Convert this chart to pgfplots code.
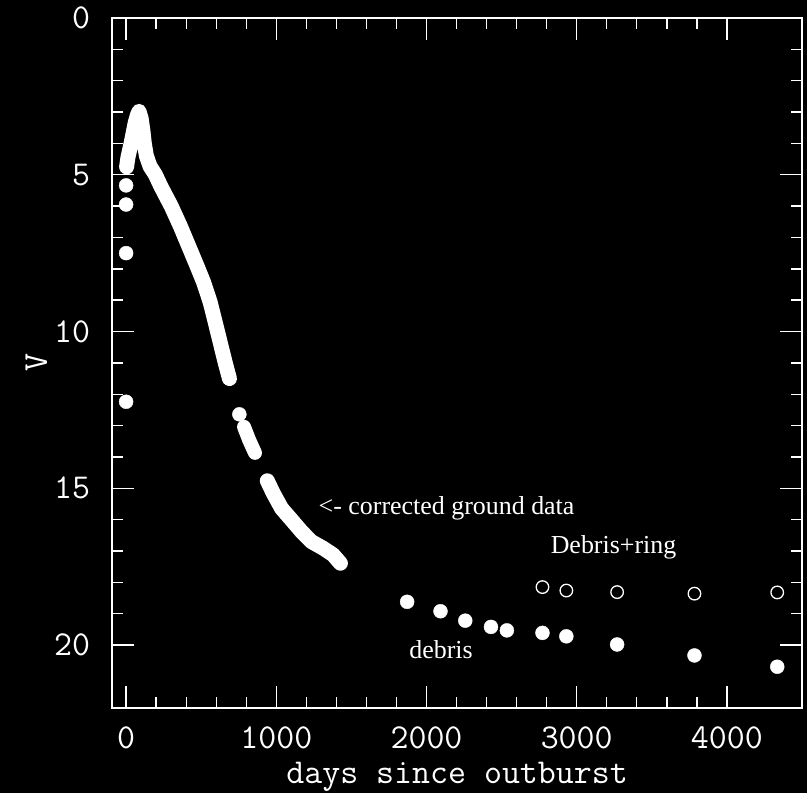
\documentclass[border=0pt]{standalone}
\usepackage{pgfplots}
\pgfplotsset{compat=1.18}
\usepackage{xcolor}
\usepackage{fontspec}
\setmainfont{Liberation Serif}
\newfontfamily\serif{Liberation Serif}
\begin{document}
\pagecolor{black}
\begin{tikzpicture}
\fill[black] (-110pt,-85pt) rectangle (697pt,710pt);
\useasboundingbox (-110pt,-85pt) rectangle (697pt,710pt);
\begin{axis}[
  at={(0,0)}, anchor=south west,
  scale only axis, width=692pt, height=692pt,
  xmin=-93, xmax=4500, ymin=0, ymax=22, y dir=reverse,
  axis line style={white, line width=1.4pt},
  every tick/.style={white, line width=1.4pt},
  xtick={0,1000,2000,3000,4000}, minor x tick num=4,
  ytick={0,5,10,15,20}, minor y tick num=4,
  tick align=inside, major tick length=22pt, minor tick length=11pt,
  /pgf/number format/1000 sep={},
  /pgf/number format/assume math mode=true,
  tick label style={font=\ttfamily\fontsize{35}{35}\selectfont, text=white, inner sep=0pt},
  xticklabel style={anchor=north, yshift=-19pt},
  yticklabel style={anchor=east, xshift=-22pt},
  xlabel={days since outburst},
  ylabel={V},
  xlabel style={font=\ttfamily\fontsize{35}{35}\selectfont, text=white, inner sep=0pt,
    at={(axis description cs:0.5,0)}, anchor=base, yshift=-76pt},
  ylabel style={font=\ttfamily\fontsize{35}{35}\selectfont, text=white, inner sep=0pt,
    at={(axis description cs:-0.1098,0.5)}, anchor=center},
  clip=false,
]
% early band: rise to peak and decline
\addplot[white, line width=15pt, line cap=round, line join=round] coordinates {
 (3,4.75) (12,4.45) (33,4.0) (60,3.35) (75,3.1) (86,2.98) (100,3.2) (112,3.6) (121,4.0)
 (135,4.4) (159,4.73) (195,5.0) (230,5.36) (300,6.0) (360,6.63) (416,7.27) (471,7.9)
 (516,8.43) (560,9.07) (593,9.70) (626,10.34) (659,10.98) (688,11.5)
};
\addplot[white, line width=14pt, line cap=round, line join=round] coordinates {
 (785,13.04) (820,13.47) (858,13.87)
};
\addplot[white, line width=15pt, line cap=round, line join=round] coordinates {
 (940,14.76) (980,15.16) (1035,15.64) (1102,16.01) (1168,16.38) (1234,16.70)
 (1312,16.91) (1378,17.12) (1427,17.39)
};
% isolated filled points
\addplot[only marks, mark=*, mark size=7pt, white, mark options={fill=white, draw=white}] coordinates {
 (0,5.34) (0,5.95) (0,7.5) (0,12.24) (754,12.64)
 (1871,18.62) (2093,18.92) (2258,19.22) (2429,19.42) (2535,19.53)
 (2772,19.61) (2931,19.72) (3269,19.98) (3784,20.33) (4335,20.69)
};
% open circles: debris + ring
\addplot[only marks, mark=o, mark size=6.3pt, white, mark options={line width=1.3pt}] coordinates {
 (2772,18.15) (2931,18.26) (3269,18.31) (3784,18.36) (4335,18.32)
};
\node[anchor=west, text=white, font=\serif\fontsize{26}{26}\selectfont, inner sep=0pt] at (axis cs:1281,15.64) {<- corrected ground data};
\node[text=white, font=\serif\fontsize{26}{26}\selectfont, inner sep=0pt] at (axis cs:3245,16.88) {Debris+ring};
\node[text=white, font=\serif\fontsize{26}{26}\selectfont, inner sep=0pt] at (axis cs:2097,20.14) {debris};
\end{axis}
\end{tikzpicture}
\end{document}
